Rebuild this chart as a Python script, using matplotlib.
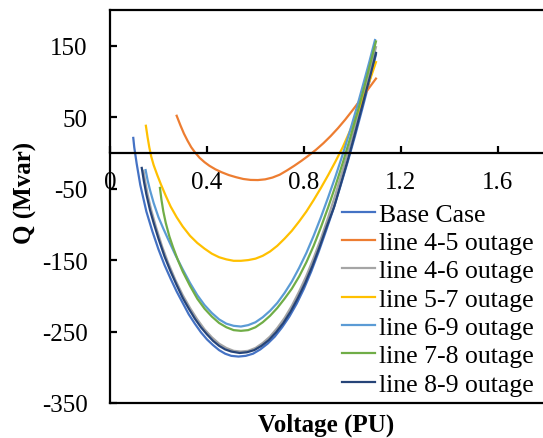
import matplotlib
matplotlib.use('Agg')
import matplotlib.pyplot as plt

plt.rcParams['font.family'] = 'Liberation Serif'
plt.rcParams['font.size'] = 18
plt.rcParams['axes.unicode_minus'] = False

# values: voltage (PU) and reactive power Q (Mvar)
base_v = [0.096, 0.10, 0.11, 0.125, 0.15, 0.175, 0.20, 0.225, 0.25, 0.275, 0.30,
          0.325, 0.35, 0.375, 0.40, 0.425, 0.45, 0.475, 0.50, 0.53, 0.56, 0.59,
          0.62, 0.65, 0.68, 0.71, 0.74, 0.77, 0.80, 0.83, 0.86, 0.89, 0.92, 0.95,
          0.98, 1.01, 1.04, 1.07, 1.097]
base_q = [21, 8, -15, -45, -82, -110, -135, -157, -176, -194, -210,
          -226, -239, -251, -261, -269, -276, -281, -284, -285, -284, -281,
          -275, -267, -257, -244, -229, -211, -190, -166, -139, -110, -80, -47,
          -13, 23, 61, 100, 138]

l45_v = [0.275, 0.29, 0.305, 0.32, 0.335, 0.35, 0.37, 0.39, 0.41, 0.435, 0.46,
         0.49, 0.52, 0.55, 0.58, 0.61, 0.64, 0.67, 0.70, 0.73, 0.76, 0.79, 0.82,
         0.85, 0.88, 0.91, 0.94, 0.97, 1.00, 1.03, 1.06, 1.097]
l45_q = [52, 39, 27, 17, 8, 1, -7, -13, -18, -23, -27,
         -31, -34, -36.5, -37.8, -38, -37, -34.5, -30.5, -24.5, -18, -11, -3.5,
         4.5, 13.5, 23.5, 34.5, 46.5, 59.5, 73, 87, 104]

l46_v = [0.138, 0.145, 0.155, 0.17, 0.19, 0.215, 0.24, 0.27, 0.30, 0.33, 0.36,
         0.39, 0.42, 0.45, 0.48, 0.51, 0.54, 0.57, 0.60, 0.63, 0.66, 0.69, 0.72,
         0.75, 0.78, 0.81, 0.84, 0.87, 0.90, 0.93, 0.96, 0.99, 1.02, 1.05, 1.075,
         1.097]
l46_q = [-25, -40, -58, -80, -104, -131, -154, -178, -199, -217, -233,
         -247, -258, -267, -273, -277, -278, -277, -273, -266, -257, -245, -231,
         -214, -194, -172, -147, -120, -90, -58, -24, 11, 48, 87, 120,
         148]

l57_v = [0.148, 0.155, 0.162, 0.17, 0.18, 0.195, 0.21, 0.23, 0.25, 0.275, 0.30,
         0.33, 0.36, 0.39, 0.42, 0.45, 0.48, 0.51, 0.54, 0.57, 0.60, 0.63, 0.66,
         0.69, 0.72, 0.75, 0.78, 0.81, 0.84, 0.87, 0.90, 0.93, 0.96, 0.99, 1.02,
         1.05, 1.075, 1.097]
l57_q = [38, 22, 8, -5, -17, -31, -44, -60, -75, -90, -103,
         -116, -126, -134, -141, -146, -149, -151, -151, -150, -148, -144, -138,
         -130, -120, -109, -96, -82, -66, -49, -31, -12, 8, 31, 55,
         82, 105, 127]

l69_v = [0.147, 0.155, 0.165, 0.18, 0.20, 0.22, 0.24, 0.27, 0.30, 0.33, 0.36,
         0.39, 0.42, 0.45, 0.48, 0.51, 0.54, 0.57, 0.60, 0.63, 0.66, 0.69, 0.72,
         0.75, 0.78, 0.81, 0.84, 0.87, 0.90, 0.93, 0.96, 0.99, 1.02, 1.05, 1.07,
         1.093]
l69_q = [-24, -38, -52, -70, -90, -106, -121, -143, -163, -182, -199,
         -213, -224, -233, -239, -242, -243, -241, -237, -230, -221, -210, -196,
         -180, -161, -140, -116, -90, -62, -33, -2, 31, 66, 103, 128,
         158]

l78_v = [0.206, 0.212, 0.22, 0.23, 0.245, 0.26, 0.28, 0.30, 0.33, 0.36, 0.39,
         0.42, 0.45, 0.48, 0.51, 0.54, 0.57, 0.60, 0.63, 0.66, 0.69, 0.72, 0.75,
         0.78, 0.81, 0.84, 0.87, 0.90, 0.93, 0.96, 0.99, 1.02, 1.05, 1.075, 1.097]
l78_q = [-49, -65, -82, -98, -117, -132, -150, -166, -186, -204, -218,
         -229, -238, -244, -248, -249, -248, -244, -237, -228, -217, -204, -190,
         -173, -153, -130, -104, -76, -46, -14, 20, 56, 94, 127, 156]

l89_v = [0.131, 0.14, 0.15, 0.165, 0.18, 0.20, 0.225, 0.25, 0.275, 0.30, 0.325,
         0.35, 0.375, 0.40, 0.425, 0.45, 0.475, 0.50, 0.535, 0.565, 0.595, 0.625,
         0.655, 0.685, 0.715, 0.745, 0.775, 0.805, 0.835, 0.865, 0.895, 0.925,
         0.955, 0.985, 1.015, 1.045, 1.075, 1.097]
l89_q = [-21, -40, -58, -80, -98, -120, -145, -166, -185, -203, -218,
         -232, -244, -254, -263, -270, -275, -278, -280, -279, -276, -270,
         -262, -251, -238, -222, -203, -182, -158, -131, -102, -75,
         -40, -5, 33, 72, 110, 140]

labels = ['Base Case', 'line 4-5 outage', 'line 4-6 outage', 'line 5-7 outage',
          'line 6-9 outage', 'line 7-8 outage', 'line 8-9 outage']
colors = ['#4472C4', '#ED7D31', '#A5A5A5', '#FFC000', '#5B9BD5', '#70AD47', '#264478']
series = [(base_v, base_q), (l45_v, l45_q), (l46_v, l46_q), (l57_v, l57_q),
          (l69_v, l69_q), (l78_v, l78_q), (l89_v, l89_q)]

fig = plt.figure(figsize=(5.43, 4.39), dpi=100)
ax = fig.add_axes([110 / 543, 1 - 404 / 439, 433 / 543, 393 / 439])

for (v, q), lab, c in zip(series, labels, colors):
    ax.plot(v, q, color=c, lw=1.6, label=lab, solid_joinstyle='round')

ax.set_xlim(0, 1.786)
ax.set_ylim(-350, 200)
ax.set_xticks([0, 0.4, 0.8, 1.2, 1.6])
ax.set_xticklabels(['0', '0.4', '0.8', '1.2', '1.6'])
ax.set_yticks([-350, -250, -150, -50, 50, 150])

ax.spines['bottom'].set_position(('data', 0))
ax.spines['right'].set_visible(False)
for s in ['bottom', 'left', 'top']:
    ax.spines[s].set_linewidth(1.6)
# plot area border at the bottom
ax.plot([0, 1], [0, 0], transform=ax.transAxes, color='black', lw=1.6, clip_on=False)

ax.tick_params(axis='both', direction='in', length=5, width=1.6)
ax.tick_params(axis='y', pad=16)
ax.tick_params(axis='x', pad=13)

ax.text(0.5, -0.055, 'Voltage (PU)', transform=ax.transAxes, ha='center', va='center',
        fontweight='bold')
ax.text(-0.196, 0.537, 'Q (Mvar)', transform=ax.transAxes, ha='center', va='center',
        rotation=90, fontweight='bold')

ax.legend(loc='upper left', bbox_to_anchor=(0.536, 0.51), frameon=False, fontsize=18.5,
          handlelength=1.3, handletextpad=0.15, labelspacing=0.21, borderpad=0,
          borderaxespad=0)

fig.savefig('out.png', dpi=100)
